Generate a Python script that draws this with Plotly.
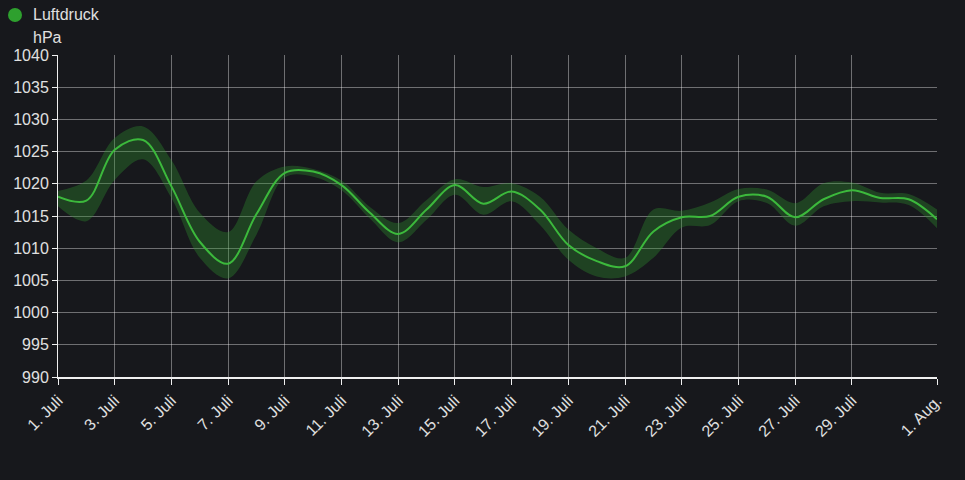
import plotly.graph_objects as go

dates = [f"2023-07-{d:02d}" for d in range(1, 32)] + ["2023-08-01"]
mean_hpa = [1018.0, 1017.4, 1025.3, 1026.8, 1019.6, 1011.0, 1007.6, 1015.3, 1021.7, 1021.9,
            1019.8, 1015.5, 1012.2, 1016.0, 1019.8, 1016.9, 1018.8, 1016.0, 1010.5, 1008.0,
            1007.2, 1012.6, 1014.8, 1015.0, 1018.0, 1018.0, 1014.8, 1017.6, 1019.0, 1017.8,
            1017.6, 1014.5]
max_hpa = [1018.9, 1020.5, 1027.1, 1028.9, 1023.7, 1015.5, 1012.5, 1020.4, 1022.7, 1022.3,
           1020.5, 1016.4, 1013.9, 1017.5, 1020.7, 1019.5, 1020.1, 1018.0, 1012.9, 1010.0,
           1008.5, 1016.0, 1015.8, 1017.1, 1019.2, 1019.1, 1017.0, 1020.1, 1020.2, 1018.6,
           1018.4, 1016.0]
min_hpa = [1016.5, 1014.2, 1020.6, 1023.8, 1017.8, 1008.5, 1005.3, 1012.1, 1021.0, 1021.1,
           1019.0, 1014.6, 1010.9, 1014.4, 1018.3, 1015.2, 1017.3, 1013.6, 1008.2, 1005.6,
           1005.6, 1008.5, 1013.2, 1013.6, 1017.3, 1017.0, 1013.5, 1016.5, 1017.3, 1017.1,
           1016.7, 1013.1]
tick_dates = [f"2023-07-{d:02d}" for d in range(1, 30, 2)] + ["2023-08-01"]
tick_labels = [f"{d}. Juli" for d in range(1, 30, 2)] + ["1. Aug."]
y_ticks = list(range(990, 1041, 5))

BG = "#17181c"
GREEN = "#3cb93c"

fig = go.Figure()
fig.add_trace(go.Scatter(x=dates, y=max_hpa, mode="lines", line=dict(width=0, shape="spline"),
                         showlegend=False, hoverinfo="skip"))
fig.add_trace(go.Scatter(x=dates, y=min_hpa, mode="lines", line=dict(width=0, shape="spline"),
                         fill="tonexty", fillcolor="rgba(48,150,48,0.34)", showlegend=False,
                         hoverinfo="skip"))
fig.add_trace(go.Scatter(x=dates, y=mean_hpa, mode="lines", name="Luftdruck",
                         line=dict(color=GREEN, width=2, shape="spline"), showlegend=False))

font = dict(family="Liberation Sans, Arial, sans-serif", size=16, color="#e0e0e0")

PW, PH = 879, 322
fig.update_layout(
    width=965, height=480,
    paper_bgcolor=BG, plot_bgcolor=BG,
    margin=dict(l=58, r=28, t=55, b=103),
    font=font,
    showlegend=False,
    xaxis=dict(type="date", range=["2023-07-01", "2023-08-01"], tickvals=tick_dates,
               ticktext=tick_labels, tickangle=-45, showgrid=True,
               gridcolor="rgba(255,255,255,0.38)", gridwidth=1, showline=True,
               linecolor="#f0f0f0", linewidth=2, ticks="outside", ticklen=6,
               tickcolor="#f0f0f0", tickfont=font, zeroline=False),
    yaxis=dict(range=[990, 1040], tickvals=y_ticks, showgrid=True,
               gridcolor="rgba(255,255,255,0.38)", gridwidth=1, showline=True,
               linecolor="#f0f0f0", linewidth=1, ticks="outside", ticklen=5,
               tickcolor="#f0f0f0", tickfont=font, zeroline=False),
    shapes=[dict(type="circle", xref="paper", yref="paper", xsizemode="pixel", ysizemode="pixel",
                 xanchor=0, yanchor=1, x0=-50, x1=-36, y0=33, y1=47,
                 fillcolor="#2ea02e", line=dict(width=0))],
    annotations=[
        dict(text="Luftdruck", xref="paper", yref="paper", x=-27 / PW, y=1 + 40 / PH,
             xanchor="left", yanchor="middle", showarrow=False, font=font),
        dict(text="hPa", xref="paper", yref="paper", x=-27 / PW, y=1 + 17 / PH,
             xanchor="left", yanchor="middle", showarrow=False, font=font),
    ],
)

fig.write_html("out.html", config={"displayModeBar": False},
               post_script="document.body.style.margin='0';document.body.style.background='#17181c';")
